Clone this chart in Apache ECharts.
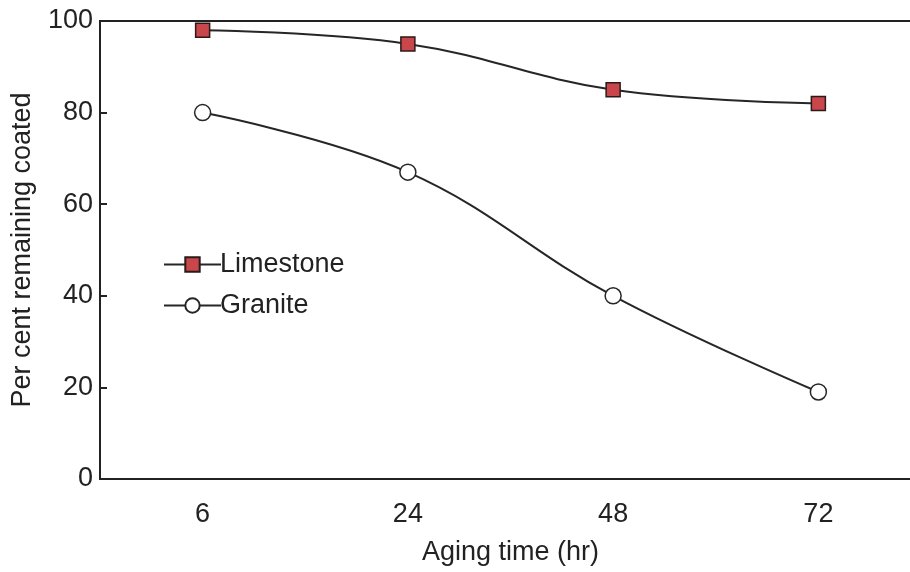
<!DOCTYPE html>
<html><head><meta charset="utf-8">
<script src="https://cdn.jsdelivr.net/npm/echarts@6/dist/echarts.min.js"></script>
<style>html,body{margin:0;padding:0;background:#fff;overflow:hidden}#c{width:930px;height:572px}</style>
</head><body><div id="c"></div>
<script>
const categories = ['6', '24', '48', '72'];
const limestone = [98, 95, 85, 82];
const granite = [80, 67, 40, 19];
const yTicks = [0, 20, 40, 60, 80, 100];

const chart = echarts.init(document.getElementById('c'));
const font = 'Liberation Sans, Arial, sans-serif';
const fs = 27;
chart.setOption({
  animation: false,
  grid: {left: 100, top: 21, width: 821, height: 458, show: true, borderColor: '#222', borderWidth: 2,
         backgroundColor: 'transparent', containLabel: false, outerBoundsMode: 'none'},
  legend: {
    orient: 'vertical', left: 158, top: 246, itemGap: 14, itemWidth: 57, itemHeight: 18,
    textStyle: {fontFamily: font, fontSize: fs, color: '#222', padding: [0,0,0,-6]},
    data: ['Limestone', 'Granite']
  },
  xAxis: {
    type: 'category', data: categories, boundaryGap: true,
    axisLine: {lineStyle: {color: '#222', width: 2}},
    axisTick: {show: false},
    axisLabel: {fontFamily: font, fontSize: fs, color: '#222', margin: 22},
    name: 'Aging time (hr)', nameLocation: 'middle', nameGap: 60,
    nameTextStyle: {fontFamily: font, fontSize: fs, color: '#222', padding: [0, 0, 0, 0]}
  },
  yAxis: {
    type: 'value', min: 0, max: 100, interval: 20,
    axisLine: {show: true, lineStyle: {color: '#222', width: 2}},
    axisTick: {show: true, inside: true, length: 7, lineStyle: {color: '#222', width: 2}},
    axisLabel: {fontFamily: font, fontSize: fs, color: '#222', margin: 7},
    splitLine: {show: false},
    name: 'Per cent remaining coated', nameLocation: 'middle', nameGap: 64,
    nameTextStyle: {fontFamily: font, fontSize: fs, color: '#222'}
  },
  series: [
    {name: 'Limestone', type: 'line', data: limestone, smooth: 0.4,
     symbol: 'rect', symbolSize: 14,
     lineStyle: {color: '#262626', width: 2},
     itemStyle: {color: '#c9464b', borderColor: '#2a1a1a', borderWidth: 1.5}},
    {name: 'Granite', type: 'line', data: granite, smooth: 0.4,
     symbol: 'circle', symbolSize: 16,
     lineStyle: {color: '#262626', width: 2},
     itemStyle: {color: '#fff', borderColor: '#262626', borderWidth: 1.5}}
  ]
});
</script></body></html>
